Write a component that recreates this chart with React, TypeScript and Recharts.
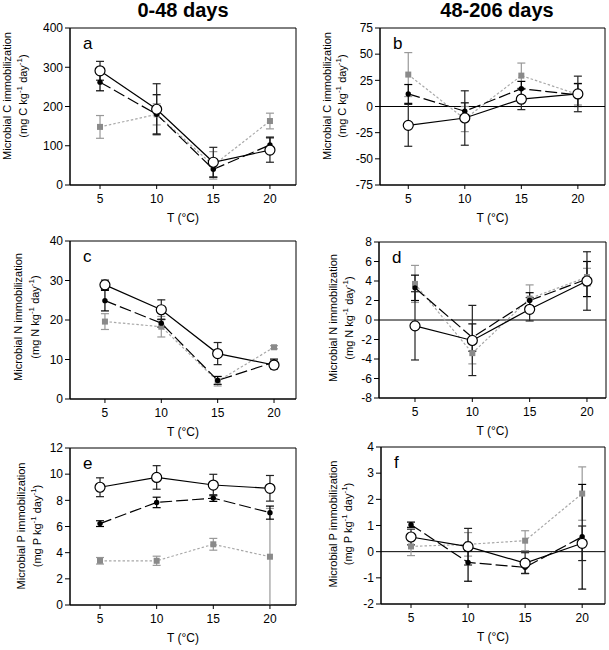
import React from 'react';
import {
  ComposedChart,
  Line,
  XAxis,
  YAxis,
  ErrorBar,
  ReferenceArea,
  ReferenceLine,
} from 'recharts';

// ---------- data ----------
const temps = [5, 10, 15, 20];
const xTicks = [5, 10, 15, 20];

// panel a: Microbial C, 0-48 days
const aOpen = [291, 193, 58, 89];
const aOpenErr = [24, 65, 38, 31];
const aDot = [262, 180, 40, 102];
const aDotErr = [22, 50, 20, 20];
const aSq = [148, 180, 50, 163];
const aSqErr = [29, 27, 35, 20];
const aYTicks = [0, 100, 200, 300, 400];

// panel b: Microbial C, 48-206 days
const bOpen = [-18, -11, 7, 12];
const bOpenErr = [20, 26, 10, 17];
const bDot = [12, -4.5, 17, 11];
const bDotErr = [9, 8, 7, 11];
const bSq = [30.5, -12, 29.5, 11.5];
const bSqErr = [21, 12, 12, 10];
const bYTicks = [-75, -50, -25, 0, 25, 50, 75];

// panel c: Microbial N, 0-48 days
const cOpen = [28.9, 22.6, 11.5, 8.6];
const cOpenErr = [1.2, 2.5, 2.8, 1.0];
const cDot = [24.9, 19.2, 4.7, 9.3];
const cDotErr = [2.6, 1.0, 1.0, 0.8];
const cSq = [19.6, 18.3, 4.5, 13.1];
const cSqErr = [2.0, 2.6, 1.2, 0.4];
const cYTicks = [0, 10, 20, 30, 40];

// panel d: Microbial N, 48-206 days
const dOpen = [-0.6, -2.1, 1.1, 4.0];
const dOpenErr = [3.5, 3.6, 1.2, 3.0];
const dDot = [3.3, -1.8, 2.0, 4.2];
const dDotErr = [1.3, 1.4, 0.8, 1.8];
const dSq = [3.7, -3.4, 2.2, 4.4];
const dSqErr = [1.9, 1.1, 1.4, 0.9];
const dYTicks = [-8, -6, -4, -2, 0, 2, 4, 6, 8];

// panel e: Microbial P, 0-48 days
const eOpen = [9.0, 9.75, 9.17, 8.92];
const eOpenErr = [0.72, 0.9, 0.82, 0.98];
const eDot = [6.22, 7.84, 8.17, 7.06];
const eDotErr = [0.22, 0.4, 0.25, 0.5];
const eSq = [3.38, 3.38, 4.64, 3.69];
const eSqErr = [0.25, 0.35, 0.45, 3.69];
const eYTicks = [0, 2, 4, 6, 8, 10, 12];

// panel f: Microbial P, 48-206 days
const fOpen = [0.56, 0.19, -0.44, 0.32];
const fOpenErr = [0.3, 0.7, 0.4, 0.66];
const fDot = [1.03, -0.41, -0.6, 0.57];
const fDotErr = [0.1, 0.72, 0.23, 2.0];
const fSq = [0.2, 0.28, 0.42, 2.22];
const fSqErr = [0.35, 0.45, 0.38, 1.02];
const fYTicks = [-2, -1, 0, 1, 2, 3, 4];

const titles = ['0-48 days', '48-206 days'];

function build(
  open: number[], openErr: number[],
  dot: number[], dotErr: number[],
  sq: number[], sqErr: number[]
) {
  return temps.map((t, i) => ({
    t,
    open: open[i], openErr: openErr[i],
    dot: dot[i], dotErr: dotErr[i],
    sq: sq[i], sqErr: sqErr[i],
  }));
}

// ---------- markers ----------
const OpenDot = (p: any) => {
  if (p.cx == null || p.cy == null) return <g key={p.key} />;
  return <circle key={p.key} cx={p.cx} cy={p.cy} r={5} fill="#fff" stroke="#000" strokeWidth={1.2} />;
};
const BlackDot = (p: any) => {
  if (p.cx == null || p.cy == null) return <g key={p.key} />;
  return <circle key={p.key} cx={p.cx} cy={p.cy} r={2.7} fill="#000" stroke="none" />;
};
const GraySq = (p: any) => {
  if (p.cx == null || p.cy == null) return <g key={p.key} />;
  return <rect key={p.key} x={p.cx - 3} y={p.cy - 3} width={6} height={6} fill="#8a8a8a" stroke="none" />;
};

// ---------- labels ----------
const YLab = (props: any) => {
  const { x1, x2, cy, el } = props;
  return (
    <g>
      <text
        x={x1}
        y={cy}
        transform={`rotate(-90, ${x1}, ${cy})`}
        textAnchor="middle"
        dominantBaseline="central"
        fontSize={11}
        fill="#000"
      >
        {`Microbial ${el} immobilization`}
      </text>
      <text
        x={x2}
        y={cy}
        transform={`rotate(-90, ${x2}, ${cy})`}
        textAnchor="middle"
        dominantBaseline="central"
        fontSize={11}
        fill="#000"
      >
        {`(mg ${el} kg`}
        <tspan dy={-4} fontSize={8}>-1</tspan>
        <tspan dy={4}> day</tspan>
        <tspan dy={-4} fontSize={8}>-1</tspan>
        <tspan dy={4}>)</tspan>
      </text>
    </g>
  );
};

const XLab = (props: any) => {
  const vb = props.viewBox || {};
  return (
    <text x={vb.x + vb.width / 2} y={vb.y + 37} textAnchor="middle" fontSize={12} fill="#000">
      T (°C)
    </text>
  );
};

const Letter = (props: any) => {
  const vb = props.viewBox || {};
  return (
    <text x={vb.x + 13} y={vb.y + 21} fontSize={17} fill="#000">
      {props.text}
    </text>
  );
};

// ---------- panel ----------
type PanelProps = {
  data: any[];
  cellLeft: number;
  plot: { l: number; t: number; r: number; b: number };
  xDom: [number, number];
  yDom: [number, number];
  yTicks: number[];
  el: string;
  lx1: number;
  lx2: number;
  lcy: number;
  letter: string;
  zero: boolean;
};

const Panel = (p: PanelProps) => {
  const cellTop = p.plot.t - 28;
  const width = p.plot.r + 4 - p.cellLeft;
  const height = p.plot.b + 45 - cellTop;
  const yAxisW = 40;
  const margin = {
    top: p.plot.t - cellTop,
    right: 4,
    left: p.plot.l - p.cellLeft - yAxisW,
    bottom: 5,
  };
  return (
    <div style={{ position: 'absolute', left: p.cellLeft, top: cellTop, width, height }}>
      <ComposedChart width={width} height={height} data={p.data} margin={margin}>
        <XAxis
          type="number"
          dataKey="t"
          domain={p.xDom}
          allowDataOverflow
          ticks={xTicks}
          tickSize={4}
          tickMargin={5}
          tick={{ fill: '#000', fontSize: 12 }}
          axisLine={{ stroke: '#000' }}
          tickLine={{ stroke: '#000' }}
          height={40}
          label={<XLab />}
        />
        <YAxis
          type="number"
          domain={p.yDom}
          allowDataOverflow
          ticks={p.yTicks}
          interval={0}
          tickSize={5}
          tickMargin={2}
          tick={{ fill: '#000', fontSize: 12 }}
          axisLine={{ stroke: '#000' }}
          tickLine={{ stroke: '#000' }}
          width={yAxisW}
          label={<YLab x1={p.lx1 - p.cellLeft} x2={p.lx2 - p.cellLeft} cy={p.lcy - cellTop} el={p.el} />}
        />
        <ReferenceArea
          x1={p.xDom[0]}
          x2={p.xDom[1]}
          y1={p.yDom[0]}
          y2={p.yDom[1]}
          fill="none"
          fillOpacity={0}
          stroke="#000"
          strokeWidth={1}
          label={<Letter text={p.letter} />}
        />
        {p.zero && <ReferenceLine y={0} stroke="#000" strokeWidth={1} />}
        <Line
          dataKey="sq"
          type="linear"
          stroke="#a8a8a8"
          strokeWidth={1.2}
          strokeDasharray="2.5 2"
          dot={GraySq}
          activeDot={false}
          isAnimationActive={false}
        >
          <ErrorBar dataKey="sqErr" direction="y" width={4} stroke="#999" strokeWidth={1.2} />
        </Line>
        <Line
          dataKey="dot"
          type="linear"
          stroke="#000"
          strokeWidth={1.2}
          strokeDasharray="12 4"
          dot={BlackDot}
          activeDot={false}
          isAnimationActive={false}
        >
          <ErrorBar dataKey="dotErr" direction="y" width={4} stroke="#000" strokeWidth={1.2} />
        </Line>
        <Line
          dataKey="open"
          type="linear"
          stroke="#000"
          strokeWidth={1.2}
          dot={OpenDot}
          activeDot={false}
          isAnimationActive={false}
        >
          <ErrorBar dataKey="openErr" direction="y" width={4} stroke="#222" strokeWidth={1.2} />
        </Line>
      </ComposedChart>
    </div>
  );
};

export default function App() {
  return (
    <div
      style={{
        position: 'absolute',
        left: 0,
        top: 0,
        width: 609,
        height: 650,
        background: '#fff',
        fontFamily: '"Liberation Sans", Arial, sans-serif',
        overflow: 'hidden',
      }}
    >
      <Panel
        data={build(aOpen, aOpenErr, aDot, aDotErr, aSq, aSqErr)}
        cellLeft={0}
        plot={{ l: 70, t: 28, r: 296, b: 185 }}
        xDom={[2.35, 22.3]}
        yDom={[0, 400]}
        yTicks={aYTicks}
        el="C"
        lx1={7}
        lx2={23}
        lcy={96}
        letter="a"
        zero={false}
      />
      <Panel
        data={build(bOpen, bOpenErr, bDot, bDotErr, bSq, bSqErr)}
        cellLeft={300}
        plot={{ l: 380, t: 28, r: 605, b: 185 }}
        xDom={[2.5, 22.4]}
        yDom={[-75, 75]}
        yTicks={bYTicks}
        el="C"
        lx1={327}
        lx2={342}
        lcy={96}
        letter="b"
        zero={true}
      />
      <Panel
        data={build(cOpen, cOpenErr, cDot, cDotErr, cSq, cSqErr)}
        cellLeft={0}
        plot={{ l: 70, t: 241, r: 296, b: 399 }}
        xDom={[1.9, 21.95]}
        yDom={[0, 40]}
        yTicks={cYTicks}
        el="N"
        lx1={18}
        lx2={35}
        lcy={317}
        letter="c"
        zero={false}
      />
      <Panel
        data={build(dOpen, dOpenErr, dDot, dDotErr, dSq, dSqErr)}
        cellLeft={300}
        plot={{ l: 379, t: 242, r: 606, b: 398 }}
        xDom={[1.86, 21.66]}
        yDom={[-8, 8]}
        yTicks={dYTicks}
        el="N"
        lx1={333}
        lx2={349}
        lcy={318}
        letter="d"
        zero={true}
      />
      <Panel
        data={build(eOpen, eOpenErr, eDot, eDotErr, eSq, eSqErr)}
        cellLeft={0}
        plot={{ l: 70, t: 448, r: 296, b: 605 }}
        xDom={[2.35, 22.3]}
        yDom={[0, 12]}
        yTicks={eYTicks}
        el="P"
        lx1={21}
        lx2={37}
        lcy={526}
        letter="e"
        zero={false}
      />
      <Panel
        data={build(fOpen, fOpenErr, fDot, fDotErr, fSq, fSqErr)}
        cellLeft={300}
        plot={{ l: 381, t: 447, r: 605, b: 604 }}
        xDom={[2.37, 22.0]}
        yDom={[-2, 4]}
        yTicks={fYTicks}
        el="P"
        lx1={333}
        lx2={348}
        lcy={524}
        letter="f"
        zero={true}
      />
      <div
        style={{
          position: 'absolute',
          left: 83,
          top: 0,
          width: 200,
          textAlign: 'center',
          fontWeight: 'bold',
          fontSize: 20,
          lineHeight: '20px',
        }}
      >
        {titles[0]}
      </div>
      <div
        style={{
          position: 'absolute',
          left: 397,
          top: 0,
          width: 200,
          textAlign: 'center',
          fontWeight: 'bold',
          fontSize: 20,
          lineHeight: '20px',
        }}
      >
        {titles[1]}
      </div>
    </div>
  );
}
